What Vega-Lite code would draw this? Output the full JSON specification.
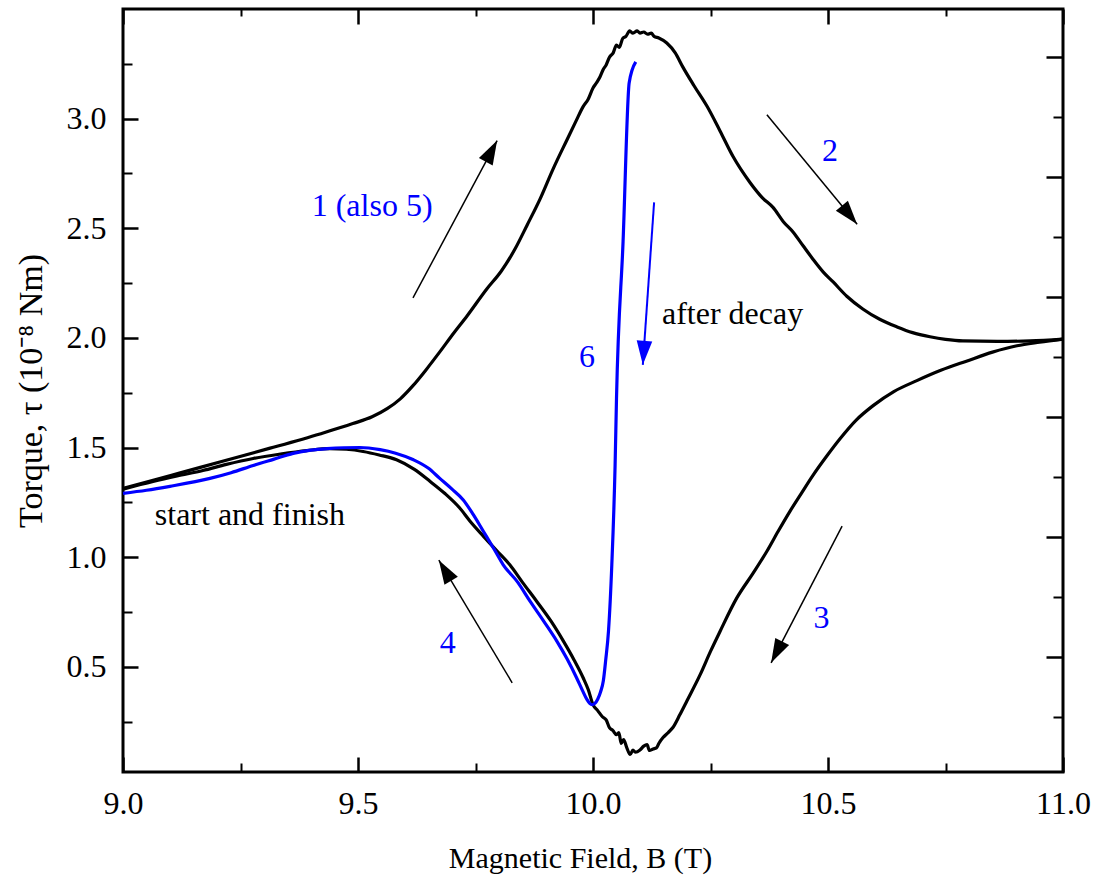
{
  "$schema": "https://vega.github.io/schema/vega-lite/v6.json",
  "width": 940,
  "height": 763,
  "autosize": {"type": "none"},
  "padding": {"left": 123, "top": 9, "right": 37, "bottom": 106},
  "background": "white",
  "config": {
    "view": {"stroke": "black", "strokeWidth": 3},
    "font": "Liberation Serif",
    "axis": {
      "grid": false,
      "domain": false,
      "labelFont": "Liberation Serif",
      "titleFont": "Liberation Serif",
      "labelColor": "black",
      "titleColor": "black",
      "tickColor": "black",
      "labelFontSize": 32,
      "titleFontSize": 30,
      "titleFontWeight": "normal",
      "labelFlush": false,
      "labelOverlap": false,
      "labelBound": false
    }
  },
  "datasets": {
    "loop": [
      {"B": 9.000, "tau": 1.314, "branch": "up"},
      {"B": 9.064, "tau": 1.350, "branch": "up"},
      {"B": 9.120, "tau": 1.383, "branch": "up"},
      {"B": 9.206, "tau": 1.434, "branch": "up"},
      {"B": 9.313, "tau": 1.497, "branch": "up"},
      {"B": 9.419, "tau": 1.562, "branch": "up"},
      {"B": 9.489, "tau": 1.609, "branch": "up"},
      {"B": 9.530, "tau": 1.640, "branch": "up"},
      {"B": 9.562, "tau": 1.677, "branch": "up"},
      {"B": 9.590, "tau": 1.722, "branch": "up"},
      {"B": 9.617, "tau": 1.782, "branch": "up"},
      {"B": 9.645, "tau": 1.855, "branch": "up"},
      {"B": 9.674, "tau": 1.936, "branch": "up"},
      {"B": 9.703, "tau": 2.020, "branch": "up"},
      {"B": 9.732, "tau": 2.100, "branch": "up"},
      {"B": 9.774, "tau": 2.223, "branch": "up"},
      {"B": 9.805, "tau": 2.305, "branch": "up"},
      {"B": 9.834, "tau": 2.405, "branch": "up"},
      {"B": 9.860, "tau": 2.515, "branch": "up"},
      {"B": 9.887, "tau": 2.632, "branch": "up"},
      {"B": 9.915, "tau": 2.770, "branch": "up"},
      {"B": 9.945, "tau": 2.905, "branch": "up"},
      {"B": 9.963, "tau": 2.985, "branch": "up"},
      {"B": 9.979, "tau": 3.055, "branch": "up"},
      {"B": 9.990, "tau": 3.090, "branch": "up"},
      {"B": 10.000, "tau": 3.140, "branch": "up"},
      {"B": 10.008, "tau": 3.165, "branch": "up"},
      {"B": 10.015, "tau": 3.191, "branch": "up"},
      {"B": 10.022, "tau": 3.225, "branch": "up"},
      {"B": 10.028, "tau": 3.245, "branch": "up"},
      {"B": 10.035, "tau": 3.280, "branch": "up"},
      {"B": 10.043, "tau": 3.300, "branch": "up"},
      {"B": 10.050, "tau": 3.335, "branch": "up"},
      {"B": 10.056, "tau": 3.325, "branch": "up"},
      {"B": 10.063, "tau": 3.365, "branch": "up"},
      {"B": 10.070, "tau": 3.375, "branch": "up"},
      {"B": 10.078, "tau": 3.400, "branch": "up"},
      {"B": 10.085, "tau": 3.390, "branch": "up"},
      {"B": 10.094, "tau": 3.400, "branch": "up"},
      {"B": 10.100, "tau": 3.390, "branch": "up"},
      {"B": 10.108, "tau": 3.395, "branch": "up"},
      {"B": 10.116, "tau": 3.385, "branch": "up"},
      {"B": 10.124, "tau": 3.390, "branch": "up"},
      {"B": 10.130, "tau": 3.375, "branch": "up"},
      {"B": 10.140, "tau": 3.368, "branch": "up"},
      {"B": 10.157, "tau": 3.345, "branch": "up"},
      {"B": 10.175, "tau": 3.300, "branch": "up"},
      {"B": 10.191, "tau": 3.236, "branch": "up"},
      {"B": 10.215, "tau": 3.150, "branch": "up"},
      {"B": 10.243, "tau": 3.055, "branch": "up"},
      {"B": 10.270, "tau": 2.945, "branch": "up"},
      {"B": 10.298, "tau": 2.827, "branch": "up"},
      {"B": 10.334, "tau": 2.709, "branch": "up"},
      {"B": 10.360, "tau": 2.640, "branch": "up"},
      {"B": 10.383, "tau": 2.595, "branch": "up"},
      {"B": 10.405, "tau": 2.530, "branch": "up"},
      {"B": 10.426, "tau": 2.482, "branch": "up"},
      {"B": 10.447, "tau": 2.420, "branch": "up"},
      {"B": 10.468, "tau": 2.359, "branch": "up"},
      {"B": 10.490, "tau": 2.300, "branch": "up"},
      {"B": 10.511, "tau": 2.255, "branch": "up"},
      {"B": 10.540, "tau": 2.190, "branch": "up"},
      {"B": 10.574, "tau": 2.132, "branch": "up"},
      {"B": 10.610, "tau": 2.085, "branch": "up"},
      {"B": 10.647, "tau": 2.050, "branch": "up"},
      {"B": 10.680, "tau": 2.024, "branch": "up"},
      {"B": 10.717, "tau": 2.005, "branch": "up"},
      {"B": 10.750, "tau": 1.993, "branch": "up"},
      {"B": 10.787, "tau": 1.986, "branch": "up"},
      {"B": 10.860, "tau": 1.984, "branch": "up"},
      {"B": 10.930, "tau": 1.986, "branch": "up"},
      {"B": 11.000, "tau": 1.994, "branch": "up"},
      {"B": 11.000, "tau": 1.994, "branch": "down"},
      {"B": 10.950, "tau": 1.980, "branch": "down"},
      {"B": 10.902, "tau": 1.964, "branch": "down"},
      {"B": 10.850, "tau": 1.935, "branch": "down"},
      {"B": 10.796, "tau": 1.895, "branch": "down"},
      {"B": 10.740, "tau": 1.852, "branch": "down"},
      {"B": 10.689, "tau": 1.805, "branch": "down"},
      {"B": 10.640, "tau": 1.755, "branch": "down"},
      {"B": 10.596, "tau": 1.691, "branch": "down"},
      {"B": 10.560, "tau": 1.625, "branch": "down"},
      {"B": 10.526, "tau": 1.541, "branch": "down"},
      {"B": 10.497, "tau": 1.460, "branch": "down"},
      {"B": 10.468, "tau": 1.373, "branch": "down"},
      {"B": 10.443, "tau": 1.290, "branch": "down"},
      {"B": 10.419, "tau": 1.209, "branch": "down"},
      {"B": 10.394, "tau": 1.118, "branch": "down"},
      {"B": 10.370, "tau": 1.027, "branch": "down"},
      {"B": 10.340, "tau": 0.925, "branch": "down"},
      {"B": 10.306, "tau": 0.814, "branch": "down"},
      {"B": 10.270, "tau": 0.660, "branch": "down"},
      {"B": 10.250, "tau": 0.570, "branch": "down"},
      {"B": 10.228, "tau": 0.464, "branch": "down"},
      {"B": 10.200, "tau": 0.345, "branch": "down"},
      {"B": 10.185, "tau": 0.282, "branch": "down"},
      {"B": 10.170, "tau": 0.223, "branch": "down"},
      {"B": 10.160, "tau": 0.200, "branch": "down"},
      {"B": 10.149, "tau": 0.177, "branch": "down"},
      {"B": 10.140, "tau": 0.150, "branch": "down"},
      {"B": 10.135, "tau": 0.130, "branch": "down"},
      {"B": 10.128, "tau": 0.125, "branch": "down"},
      {"B": 10.120, "tau": 0.118, "branch": "down"},
      {"B": 10.115, "tau": 0.145, "branch": "down"},
      {"B": 10.108, "tau": 0.138, "branch": "down"},
      {"B": 10.100, "tau": 0.120, "branch": "down"},
      {"B": 10.090, "tau": 0.110, "branch": "down"},
      {"B": 10.085, "tau": 0.120, "branch": "down"},
      {"B": 10.079, "tau": 0.100, "branch": "down"},
      {"B": 10.072, "tau": 0.130, "branch": "down"},
      {"B": 10.065, "tau": 0.168, "branch": "down"},
      {"B": 10.060, "tau": 0.150, "branch": "down"},
      {"B": 10.055, "tau": 0.200, "branch": "down"},
      {"B": 10.050, "tau": 0.190, "branch": "down"},
      {"B": 10.042, "tau": 0.210, "branch": "down"},
      {"B": 10.035, "tau": 0.222, "branch": "down"},
      {"B": 10.028, "tau": 0.258, "branch": "down"},
      {"B": 10.020, "tau": 0.272, "branch": "down"},
      {"B": 10.010, "tau": 0.300, "branch": "down"},
      {"B": 10.000, "tau": 0.327, "branch": "down"},
      {"B": 9.990, "tau": 0.395, "branch": "down"},
      {"B": 9.979, "tau": 0.450, "branch": "down"},
      {"B": 9.960, "tau": 0.530, "branch": "down"},
      {"B": 9.937, "tau": 0.617, "branch": "down"},
      {"B": 9.910, "tau": 0.710, "branch": "down"},
      {"B": 9.880, "tau": 0.799, "branch": "down"},
      {"B": 9.850, "tau": 0.885, "branch": "down"},
      {"B": 9.823, "tau": 0.965, "branch": "down"},
      {"B": 9.795, "tau": 1.030, "branch": "down"},
      {"B": 9.767, "tau": 1.095, "branch": "down"},
      {"B": 9.738, "tau": 1.165, "branch": "down"},
      {"B": 9.716, "tau": 1.225, "branch": "down"},
      {"B": 9.685, "tau": 1.290, "branch": "down"},
      {"B": 9.653, "tau": 1.346, "branch": "down"},
      {"B": 9.620, "tau": 1.400, "branch": "down"},
      {"B": 9.582, "tau": 1.444, "branch": "down"},
      {"B": 9.545, "tau": 1.466, "branch": "down"},
      {"B": 9.511, "tau": 1.482, "branch": "down"},
      {"B": 9.475, "tau": 1.492, "branch": "down"},
      {"B": 9.440, "tau": 1.495, "branch": "down"},
      {"B": 9.391, "tau": 1.486, "branch": "down"},
      {"B": 9.335, "tau": 1.470, "branch": "down"},
      {"B": 9.277, "tau": 1.450, "branch": "down"},
      {"B": 9.220, "tau": 1.423, "branch": "down"},
      {"B": 9.170, "tau": 1.395, "branch": "down"},
      {"B": 9.115, "tau": 1.370, "branch": "down"},
      {"B": 9.064, "tau": 1.345, "branch": "down"},
      {"B": 9.000, "tau": 1.310, "branch": "down"}
    ],
    "relax": [
      {"B": 9.000, "tau": 1.291},
      {"B": 9.050, "tau": 1.305},
      {"B": 9.100, "tau": 1.323},
      {"B": 9.185, "tau": 1.359},
      {"B": 9.230, "tau": 1.385},
      {"B": 9.277, "tau": 1.418},
      {"B": 9.320, "tau": 1.446},
      {"B": 9.362, "tau": 1.473},
      {"B": 9.400, "tau": 1.488},
      {"B": 9.434, "tau": 1.495},
      {"B": 9.470, "tau": 1.499},
      {"B": 9.504, "tau": 1.500},
      {"B": 9.547, "tau": 1.490},
      {"B": 9.580, "tau": 1.474},
      {"B": 9.618, "tau": 1.444},
      {"B": 9.650, "tau": 1.405},
      {"B": 9.674, "tau": 1.359},
      {"B": 9.700, "tau": 1.310},
      {"B": 9.724, "tau": 1.261},
      {"B": 9.745, "tau": 1.195},
      {"B": 9.767, "tau": 1.117},
      {"B": 9.790, "tau": 1.035},
      {"B": 9.809, "tau": 0.965},
      {"B": 9.840, "tau": 0.885},
      {"B": 9.866, "tau": 0.799},
      {"B": 9.895, "tau": 0.708},
      {"B": 9.923, "tau": 0.617},
      {"B": 9.945, "tau": 0.535},
      {"B": 9.965, "tau": 0.450},
      {"B": 9.978, "tau": 0.390},
      {"B": 9.987, "tau": 0.351},
      {"B": 9.993, "tau": 0.333},
      {"B": 9.998, "tau": 0.327},
      {"B": 10.004, "tau": 0.333},
      {"B": 10.010, "tau": 0.352},
      {"B": 10.016, "tau": 0.385},
      {"B": 10.022, "tau": 0.436},
      {"B": 10.027, "tau": 0.530},
      {"B": 10.033, "tau": 0.664},
      {"B": 10.040, "tau": 0.964},
      {"B": 10.047, "tau": 1.418},
      {"B": 10.050, "tau": 1.723},
      {"B": 10.064, "tau": 2.440},
      {"B": 10.077, "tau": 3.164},
      {"B": 10.091, "tau": 3.259}
    ],
    "arrows": [
      {"B0": 9.617, "tau0": 2.182, "B1": 9.796, "tau1": 2.900, "kind": "sweep"},
      {"B0": 10.370, "tau0": 3.018, "B1": 10.562, "tau1": 2.518, "kind": "sweep"},
      {"B0": 10.530, "tau0": 1.141, "B1": 10.379, "tau1": 0.518, "kind": "sweep"},
      {"B0": 9.828, "tau0": 0.427, "B1": 9.672, "tau1": 0.986, "kind": "sweep"},
      {"B0": 10.130, "tau0": 2.618, "B1": 10.106, "tau1": 1.877, "kind": "decay"}
    ],
    "notes": [
      {"label": "1 (also 5)", "B": 9.530, "tau": 2.555, "kind": "step"},
      {"label": "2", "B": 10.504, "tau": 2.806, "kind": "step"},
      {"label": "3", "B": 10.486, "tau": 0.677, "kind": "step"},
      {"label": "4", "B": 9.691, "tau": 0.564, "kind": "step"},
      {"label": "6", "B": 9.987, "tau": 1.868, "kind": "step"},
      {"label": "after decay", "B": 10.297, "tau": 2.064, "kind": "note"},
      {"label": "start and finish", "B": 9.270, "tau": 1.145, "kind": "note"}
    ]
  },
  "resolve": {
    "scale": {"y": "independent"},
    "axis": {"x": "independent", "y": "independent"}
  },
  "layer": [
    {
      "resolve": {"axis": {"x": "independent", "y": "independent"}},
      "layer": [
        {
          "data": {"name": "loop"},
          "mark": {"type": "line", "color": "black", "strokeWidth": 3.2, "strokeJoin": "round", "interpolate": "monotone"},
          "encoding": {
            "x": {
              "field": "B", "type": "quantitative",
              "scale": {"domain": [9, 11], "nice": false, "zero": false},
              "axis": {
                "orient": "bottom", "values": [9, 9.5, 10, 10.5, 11], "format": ".1f",
                "ticks": false, "tickSize": 0, "labelPadding": 16,
                "title": "Magnetic Field, B (T)", "titlePadding": 24,
                "titleX": 457, "titleAlign": "center"
              }
            },
            "y": {
              "field": "tau", "type": "quantitative",
              "scale": {"domain": [0.02, 3.5], "nice": false, "zero": false},
              "axis": {
                "orient": "left", "values": [0.5, 1, 1.5, 2, 2.5, 3], "format": ".1f",
                "ticks": false, "tickSize": 0, "labelPadding": 17,
                "title": "Torque, τ (10⁻⁸ Nm)", "titlePadding": 18, "titleFontSize": 34
              }
            },
            "detail": {"field": "branch"}
          }
        },
        {
          "data": {"name": "relax"},
          "mark": {"type": "line", "color": "#0000ff", "strokeWidth": 3.2, "strokeJoin": "round", "interpolate": "monotone"},
          "encoding": {
            "x": {
              "field": "B", "type": "quantitative",
              "axis": {"orient": "bottom", "values": [9, 9.5, 10, 10.5, 11], "labels": false, "title": null, "tickSize": -15, "tickWidth": 2.5}
            },
            "y": {
              "field": "tau", "type": "quantitative",
              "axis": {"orient": "left", "values": [0.5, 1, 1.5, 2, 2.5, 3], "labels": false, "title": null, "tickSize": -15, "tickWidth": 2.5}
            }
          }
        },
        {
          "data": {"name": "arrows"},
          "mark": {"type": "rule"},
          "encoding": {
            "x": {
              "field": "B0", "type": "quantitative",
              "axis": {"orient": "bottom", "values": [9.25, 9.75, 10.25, 10.75], "labels": false, "title": null, "tickSize": -9, "tickWidth": 2}
            },
            "y": {
              "field": "tau0", "type": "quantitative",
              "axis": {"orient": "left", "values": [0.25, 0.75, 1.25, 1.75, 2.25, 2.75, 3.25], "labels": false, "title": null, "tickSize": -9, "tickWidth": 2}
            },
            "x2": {"field": "B1"},
            "y2": {"field": "tau1"},
            "color": {
              "field": "kind", "type": "nominal",
              "scale": {"domain": ["sweep", "decay", "step", "note"], "range": ["black", "#0000ff", "#0000ff", "black"]},
              "legend": null
            },
            "strokeWidth": {
              "field": "kind", "type": "nominal",
              "scale": {"domain": ["sweep", "decay"], "range": [1.5, 2]},
              "legend": null
            }
          }
        },
        {
          "data": {"name": "arrows"},
          "transform": [
            {"calculate": "atan2((datum.B1 - datum.B0) * 470, (datum.tau1 - datum.tau0) * 219.25) * 180 / PI", "as": "heading"}
          ],
          "mark": {"type": "point", "shape": "M0,0L-0.65,2L0.65,2Z", "filled": true, "opacity": 1, "size": 576, "strokeWidth": 0},
          "encoding": {
            "x": {
              "field": "B1", "type": "quantitative",
              "axis": {"orient": "top", "values": [9, 9.5, 10, 10.5, 11], "labels": false, "title": null, "tickSize": -15, "tickWidth": 2.5}
            },
            "y": {"field": "tau1", "type": "quantitative", "axis": null},
            "angle": {"field": "heading", "type": "quantitative", "scale": null},
            "color": {
              "field": "kind", "type": "nominal",
              "scale": {"domain": ["sweep", "decay", "step", "note"], "range": ["black", "#0000ff", "#0000ff", "black"]},
              "legend": null
            }
          }
        },
        {
          "data": {"name": "notes"},
          "mark": {"type": "text", "font": "Liberation Serif", "fontSize": 32, "align": "center", "baseline": "alphabetic"},
          "encoding": {
            "x": {
              "field": "B", "type": "quantitative",
              "axis": {"orient": "top", "values": [9.25, 9.75, 10.25, 10.75], "labels": false, "title": null, "tickSize": -7, "tickWidth": 2}
            },
            "y": {"field": "tau", "type": "quantitative", "axis": null},
            "text": {"field": "label"},
            "color": {
              "field": "kind", "type": "nominal",
              "scale": {"domain": ["sweep", "decay", "step", "note"], "range": ["black", "#0000ff", "#0000ff", "black"]},
              "legend": null
            }
          }
        }
      ]
    },
    {
      "data": {"name": "loop"},
      "mark": {"type": "point", "opacity": 0},
      "encoding": {
        "x": {"field": "B", "type": "quantitative", "axis": null},
        "y": {
          "field": "tau", "type": "quantitative",
          "scale": {"domain": [0.0417, 6.4], "nice": false, "zero": false},
          "axis": {"orient": "right", "values": [1, 2, 3, 4, 5, 6], "labels": false, "title": null, "tickSize": -17, "tickWidth": 2.5}
        }
      }
    },
    {
      "data": {"name": "loop"},
      "mark": {"type": "point", "opacity": 0},
      "encoding": {
        "x": {"field": "B", "type": "quantitative", "axis": null},
        "y": {
          "field": "tau", "type": "quantitative",
          "scale": {"domain": [0.0417, 6.4], "nice": false, "zero": false},
          "axis": {"orient": "right", "values": [0.5, 1.5, 2.5, 3.5, 4.5, 5.5], "labels": false, "title": null, "tickSize": -10, "tickWidth": 2}
        }
      }
    }
  ]
}
